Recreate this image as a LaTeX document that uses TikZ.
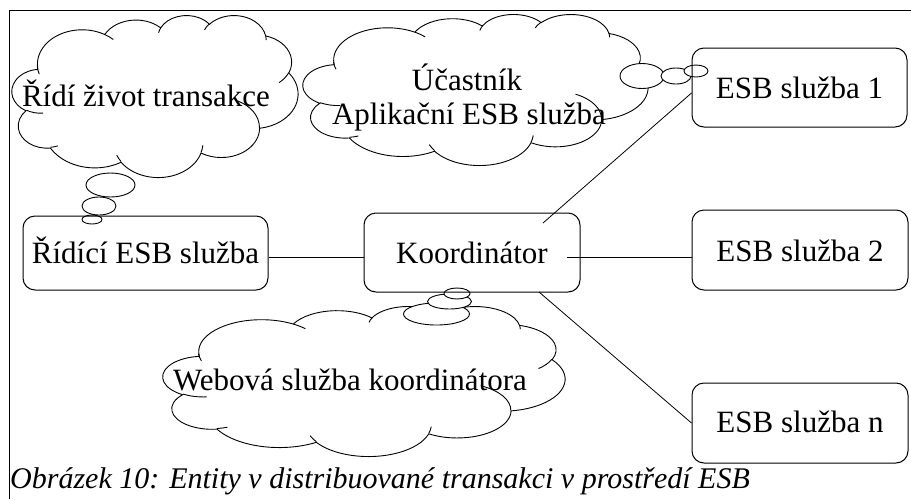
\documentclass[tikz,border=0pt]{standalone}
\usepackage{fontspec}
\setmainfont{Liberation Serif}
\newcommand\diagfont{\fontsize{31pt}{35pt}\selectfont}
\newcommand\capfont{\fontsize{30pt}{34pt}\selectfont\itshape}
% cloud helpers (MS cloud outline, coordinates in 1/432 of the box)
\newcommand\cloudMove[2]{%
  \pgfmathsetmacro\clPx{\clX+#1/432*\clW}%
  \pgfmathsetmacro\clPy{-(\clY+#2/432*\clH)}%
  \pgfpathmoveto{\pgfpoint{\clPx pt}{\clPy pt}}}
\newcommand\cloudArc[4]{%
  \pgfmathsetmacro\clA{#1/432*\clW}%
  \pgfmathsetmacro\clB{#2/432*\clH}%
  \pgfmathsetmacro\clTs{atan2(#1*sin(#3),#2*cos(#3))}%
  \pgfmathsetmacro\clTe{atan2(#1*sin(#3+#4),#2*cos(#3+#4))}%
  \pgfmathsetmacro\clTf{\clTs+mod(\clTe-\clTs+720,360)}%
  \pgfpatharcaxes{\clTs}{\clTf}{\pgfpoint{\clA pt}{0pt}}{\pgfpoint{0pt}{-\clB pt}}}
\newcommand\drawCloud[4]{%
  \def\clX{#1}\def\clY{#2}\def\clW{#3}\def\clH{#4}%
  \begin{pgfscope}
  \pgfsetlinewidth{0.9pt}%
  \pgfsetfillcolor{white}%
  \cloudMove{39.00}{143.70}%
  \cloudArc{67.53}{91.90}{-190.4875}{123.7805}%
  \cloudArc{53.33}{72.67}{-144.1024}{89.9452}%
  \cloudArc{43.65}{59.45}{-145.8079}{99.7230}%
  \cloudArc{48.57}{65.95}{-130.9861}{117.2417}%
  \cloudArc{53.33}{72.73}{-78.7089}{109.0269}%
  \cloudArc{67.75}{92.20}{-46.2673}{130.2690}%
  \cloudArc{57.85}{78.67}{0.6250}{114.0333}%
  \cloudArc{67.52}{92.15}{22.4516}{115.1726}%
  \cloudArc{77.20}{105.43}{66.2426}{75.7110}%
  \cloudArc{43.60}{59.18}{-274.9421}{146.7356}%
  \cloudArc{43.45}{59.45}{-246.8285}{152.5189}%
  \pgfpathclose
  \pgfusepath{fill,stroke}%
  \cloudMove{46.93}{261.77}\cloudArc{43.45}{59.45}{86.7420}{26.4295}%
  \cloudMove{69.28}{348.99}\cloudArc{43.60}{59.18}{73.6105}{11.4475}%
  \cloudMove{164.78}{390.90}\cloudArc{67.52}{92.15}{137.6242}{14.0811}%
  \cloudMove{288.27}{347.51}\cloudArc{67.52}{92.15}{6.4533}{15.9984}%
  \cloudMove{341.29}{229.54}\cloudArc{57.85}{78.67}{-70.2924}{70.9174}%
  \cloudMove{417.98}{153.54}\cloudArc{53.33}{72.73}{30.3180}{27.7515}%
  \cloudMove{383.24}{54.26}\cloudArc{48.57}{65.95}{-13.7443}{14.8589}%
  \cloudMove{290.78}{39.52}\cloudArc{48.57}{65.95}{-149.1815}{18.1954}%
  \cloudMove{221.41}{47.20}\cloudArc{43.65}{59.45}{-163.4943}{17.8368}%
  \cloudMove{140.00}{51.92}\cloudArc{67.53}{91.90}{-66.7070}{12.3194}%
  \cloudMove{41.27}{157.89}\cloudArc{67.53}{91.90}{155.6363}{17.0402}%
  \pgfusepath{stroke}%
  \end{pgfscope}}
\tikzset{
  box/.style={draw, line width=1pt, rounded corners=12pt, inner sep=0pt,
    text height=21pt, text depth=0pt, font=\diagfont},
  conn/.style={line width=0.8pt},
  bubble/.style={draw, fill=white, line width=0.9pt},
  lbl/.style={anchor=base, inner sep=0pt, font=\diagfont},
}
\begin{document}
\begin{tikzpicture}[x=1pt, y=-1pt]
\useasboundingbox (0,0) rectangle (911,499);
\fill[white] (0,0) rectangle (911,499);
% frame
\draw[line width=1pt] (9,499) -- (9,10) -- (911,10);
% clouds
\drawCloud{12}{15}{286}{162}
\drawCloud{303}{14}{345}{151}
\drawCloud{163}{306}{402}{150}
% thought bubbles
\draw[bubble] (110.5,185) ellipse [x radius=24.5, y radius=12];
\draw[bubble] (99,206) ellipse [x radius=17, y radius=9];
\draw[bubble] (92,219.5) ellipse [x radius=10, y radius=4.5];
\draw[bubble] (642,76) ellipse [x radius=22, y radius=12.5];
\draw[bubble] (676,76) ellipse [x radius=15, y radius=8];
\draw[bubble] (696,71) ellipse [x radius=12, y radius=6];
\draw[bubble] (436.5,314) ellipse [x radius=33, y radius=11];
\draw[bubble] (449.5,301.5) ellipse [x radius=22, y radius=7.5];
\draw[bubble] (457,293.5) ellipse [x radius=13, y radius=5.5];
% boxes
\node[box, minimum width=245pt, minimum height=74pt, text height=20pt] (rid) at (145.5,253) {Řídící ESB služba};
\node[box, minimum width=216pt, minimum height=79pt] (koord) at (472,252.5) {Koordinátor};
\node[box, minimum width=215pt, minimum height=79pt] (e1) at (799.5,87.5) {ESB služba 1};
\node[box, minimum width=216pt, minimum height=80pt, text height=22pt] (e2) at (800,250) {ESB služba 2};
\node[box, minimum width=216pt, minimum height=80pt, text height=18pt] (en) at (800,423) {ESB služba n};
% connectors
\coordinate (k1) at (543,223);
\coordinate (k2) at (567,257);
\coordinate (kn) at (539,292);
\coordinate (y93) at (0,93);
\draw[conn] (rid.east |- k2) -- (koord.west |- k2);
\draw[conn] (k2) -- (e2.west |- k2);
\draw[conn] (k1) -- (e1.west |- y93);
\draw[conn] (kn) -- (en.west);
% cloud texts
\node[lbl] (t1) at (146,106) {Řídí život transakce};
\node[lbl] (t2a) at (467,90) {Účastník};
\node[lbl] (t2b) at (469,124) {Aplikační ESB služba};
\node[lbl] (t3) at (350,390) {Webová služba koordinátora};
% caption
\node[anchor=base west, inner sep=0pt, font=\capfont] (cap) at (10,488) {Obrázek 10: Entity v distribuované transakci v prostředí ESB};
\end{tikzpicture}
\end{document}
